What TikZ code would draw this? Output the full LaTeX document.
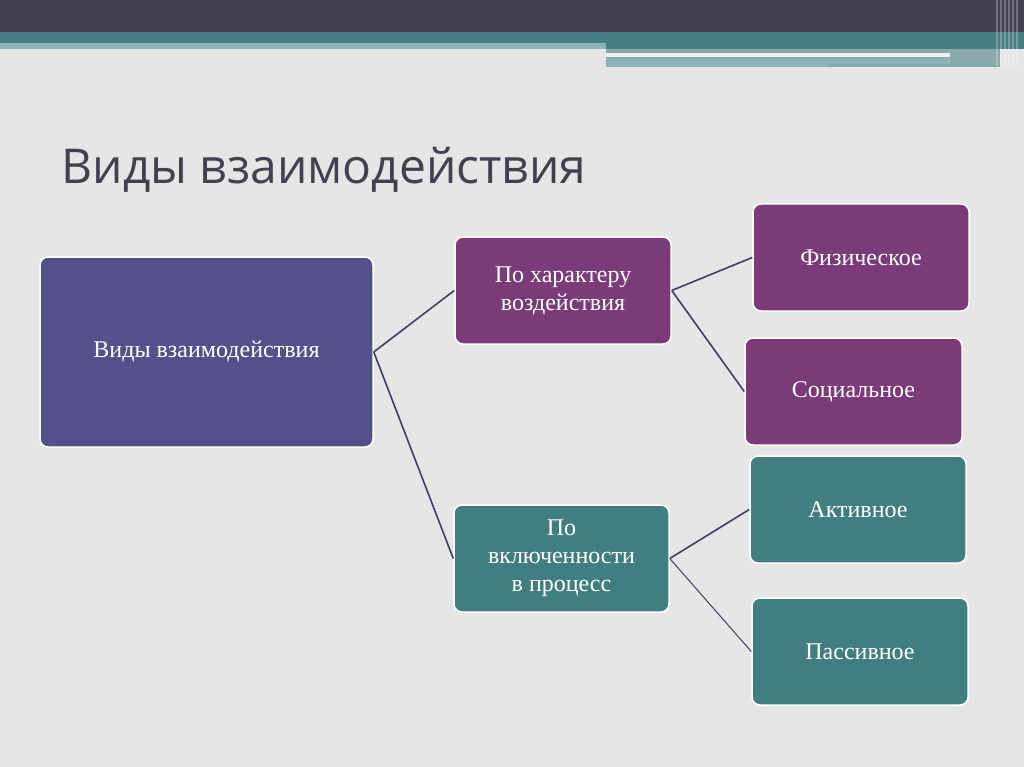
\documentclass[tikz,border=0pt]{standalone}
\usepackage{fontspec}
\setmainfont{Liberation Serif}
\newfontfamily\titlefont{Open Sans}
\begin{document}
\begin{tikzpicture}[x=1pt,y=-1pt,
  bx/.style={draw=white,line width=1.5pt,rounded corners=8pt,text=white,align=center,
    font=\fontsize{24}{28}\selectfont,inner sep=0pt},
  con/.style={draw=conc,line width=1.6pt}]
\definecolor{bg}{HTML}{E6E6E6}
\definecolor{dark}{HTML}{41414F}
\definecolor{teal}{HTML}{477F83}
\definecolor{lteal}{HTML}{8DB3B6}
\definecolor{mainc}{HTML}{54508A}
\definecolor{purp}{HTML}{7A3B78}
\definecolor{tealb}{HTML}{417E80}
\definecolor{conc}{HTML}{3D3F66}
\fill[bg] (0,0) rectangle (1024,767);
\fill[dark] (0,0) rectangle (1024,32);
\fill[teal] (0,32) rectangle (1024,49);
\fill[lteal] (0,43) rectangle (606,49);
\fill[lteal!80!gray] (606,49) rectangle (1000,67);
\fill[white!90!teal] (606,53) rectangle (950,57);
\fill[lteal] (606,58) rectangle (828,67);
\fill[lteal] (828,58) rectangle (950,64);
\foreach \x in {996,1000,1004,1008,1012,1016}{\fill[white,opacity=0.25] (\x,0) rectangle (\x+1.5,66);}
\node[anchor=west,text=dark,font=\titlefont\fontsize{48}{56}\selectfont] (t) at (58,170) {Виды взаимодействия};
\node[bx,fill=mainc,minimum width=333pt,minimum height=190pt] (m) at (206.5,352) {Виды взаимодействия};
\node[bx,fill=purp,minimum width=216pt,minimum height=107pt] (h) at (563,290.5) {По характеру\\воздействия};
\node[bx,fill=purp,minimum width=216pt,minimum height=107pt] (f) at (861,257.5) {Физическое};
\node[bx,fill=purp,minimum width=217pt,minimum height=107pt] (s) at (853.5,391.5) {Социальное};
\node[bx,fill=tealb,minimum width=215pt,minimum height=107pt] (v) at (561.5,558.5) {По\\включенности\\в процесс};
\node[bx,fill=tealb,minimum width=216pt,minimum height=107pt] (a) at (858,509.5) {Активное};
\node[bx,fill=tealb,minimum width=216pt,minimum height=107pt] (p) at (860,651.5) {Пассивное};
\draw[con] (m.east) -- (h.west);
\draw[con] (m.east) -- (v.west);
\draw[con] (h.east) -- (f.west);
\draw[con] (h.east) -- (s.west);
\draw[con] (v.east) -- (a.west);
\draw[con,line width=1pt] (v.east) -- (p.west);
\end{tikzpicture}
\end{document}
